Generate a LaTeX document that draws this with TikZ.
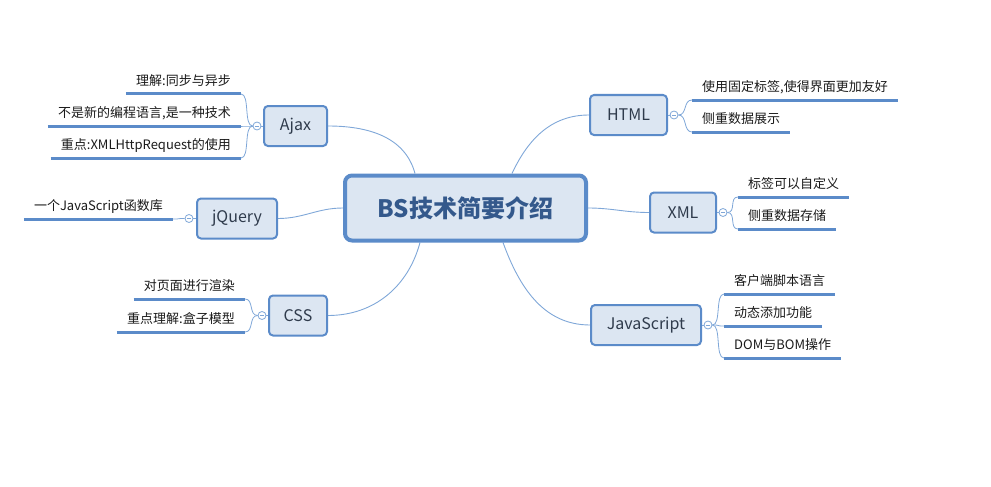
\documentclass[tikz,border=0pt]{standalone}
\usepackage{fontspec}
\setmainfont{Noto Sans CJK SC}
\usetikzlibrary{backgrounds}
\definecolor{edge}{HTML}{5B8BC9}
\definecolor{boxfill}{HTML}{DCE6F2}
\definecolor{conncol}{HTML}{7FA7D8}
\definecolor{titlecol}{HTML}{34598C}
\definecolor{boxtext}{HTML}{2F3B4C}
\definecolor{leaftext}{HTML}{1A1A1A}
\tikzset{
 topic/.style={draw=edge, line width=2pt, fill=boxfill, rounded corners=4pt, minimum height=40pt, inner xsep=2pt, font=\fontsize{16}{18}\selectfont, text=boxtext},
 central/.style={draw=edge, line width=4pt, fill=boxfill, rounded corners=7pt, minimum width=241pt, minimum height=65pt, font=\fontsize{24}{28}\selectfont\bfseries, text=titlecol},
 leaf/.style={inner xsep=10pt, inner ysep=5pt, text height=10pt, text depth=3pt, font=\fontsize{13}{15}\selectfont, text=leaftext},
 uline/.style={draw=edge, line width=3pt},
 conn/.style={draw=conncol, line width=0.9pt},
 brace/.style={draw=conncol, line width=0.8pt},
 toggle/.style={circle, draw=conncol, fill=white, line width=0.8pt, minimum size=8pt, inner sep=0pt,
   path picture={\draw[conncol, line width=0.8pt] ([xshift=-2.2pt]path picture bounding box.center) -- ([xshift=2.2pt]path picture bounding box.center);}}
}
\begin{document}
\begin{tikzpicture}[x=1pt, y=-1pt]
\useasboundingbox (0,0) rectangle (991,487);
% central and topics
\node[central] (c) at (465.5,208) {BS技术简要介绍};
\node[topic, minimum width=77pt] (html) at (628.5,115) {HTML};
\node[topic, minimum width=66pt] (xml) at (683,212.5) {XML};
\node[topic, minimum width=110pt] (js) at (646,325) {JavaScript};
\node[topic, minimum width=63pt] (ajax) at (295.5,126) {Ajax};
\node[topic, minimum width=80pt] (jq) at (237,218.5) {jQuery};
\node[topic, minimum width=58pt] (css) at (298,315.5) {CSS};
% toggles
\node[toggle] (tht) at ([xshift=6pt]html.east) {};
\node[toggle] (txm) at ([xshift=6pt]xml.east) {};
\node[toggle] (tjs) at ([xshift=6pt]js.east) {};
\node[toggle] (taj) at ([xshift=-6pt]ajax.west) {};
\node[toggle] (tjq) at ([xshift=-7pt]jq.west) {};
\node[toggle] (tcs) at ([xshift=-6pt]css.west) {};
% leaves right
\node[leaf, anchor=south west] (h1) at (692,100) {使用固定标签,使得界面更加友好};
\node[leaf, anchor=south west] (h2) at (692,132) {侧重数据展示};
\node[leaf, anchor=south west] (x1) at (738,197) {标签可以自定义};
\node[leaf, anchor=south west] (x2) at (738,229) {侧重数据存储};
\node[leaf, anchor=south west] (j1) at (724,294) {客户端脚本语言};
\node[leaf, anchor=south west] (j2) at (724,326) {动态添加功能};
\node[leaf, anchor=south west] (j3) at (724,358) {DOM与BOM操作};
% leaves left
\node[leaf, anchor=south east] (a1) at (241,94) {理解:同步与异步};
\node[leaf, anchor=south east] (a2) at (241,126) {不是新的编程语言,是一种技术};
\node[leaf, anchor=south east] (a3) at (241,158) {重点:XMLHttpRequest的使用};
\node[leaf, anchor=south east] (q1) at (173,219) {一个JavaScript函数库};
\node[leaf, anchor=south east] (s1) at (245,299) {对页面进行渲染};
\node[leaf, anchor=south east] (s2) at (245,332) {重点理解:盒子模型};
% underlines
\foreach \n in {h1,h2,x1,x2,j1,j2,j3,a1,a2,a3,q1,s1,s2}
  \draw[uline] (\n.south west) -- (\n.south east);
% braces right
\foreach \t/\n in {tht/h1,tht/h2,txm/x1,txm/x2,tjs/j1,tjs/j2,tjs/j3}
  \draw[brace] (\t.east) .. controls +(9,0) and +(-9,0) .. (\n.south west);
% braces left
\foreach \t/\n in {taj/a1,taj/a2,taj/a3,tjq/q1,tcs/s1,tcs/s2}
  \draw[brace] (\t.west) .. controls +(-9,0) and +(9,0) .. (\n.south east);
% box to toggle
\foreach \b/\t in {html/tht,xml/txm,js/tjs}
  \draw[brace] (\b.east) -- (\t.west);
\foreach \b/\t in {ajax/taj,jq/tjq,css/tcs}
  \draw[brace] (\b.west) -- (\t.east);
% connectors
\begin{scope}[on background layer]
\draw[conn] ([xshift=72pt]c.north west) to[out=105,in=0] (ajax.east);
\draw[conn] ([xshift=-76pt]c.north east) to[out=65,in=180] (html.west);
\draw[conn] (c.west) to[out=180,in=0] (jq.east);
\draw[conn] ([xshift=77pt]c.south west) to[out=-105,in=0] (css.east);
\draw[conn] (c.east) to[out=0,in=180] (xml.west);
\draw[conn] ([xshift=-85pt]c.south east) to[out=-70,in=180] (js.west);
\end{scope}
\end{tikzpicture}
\end{document}
